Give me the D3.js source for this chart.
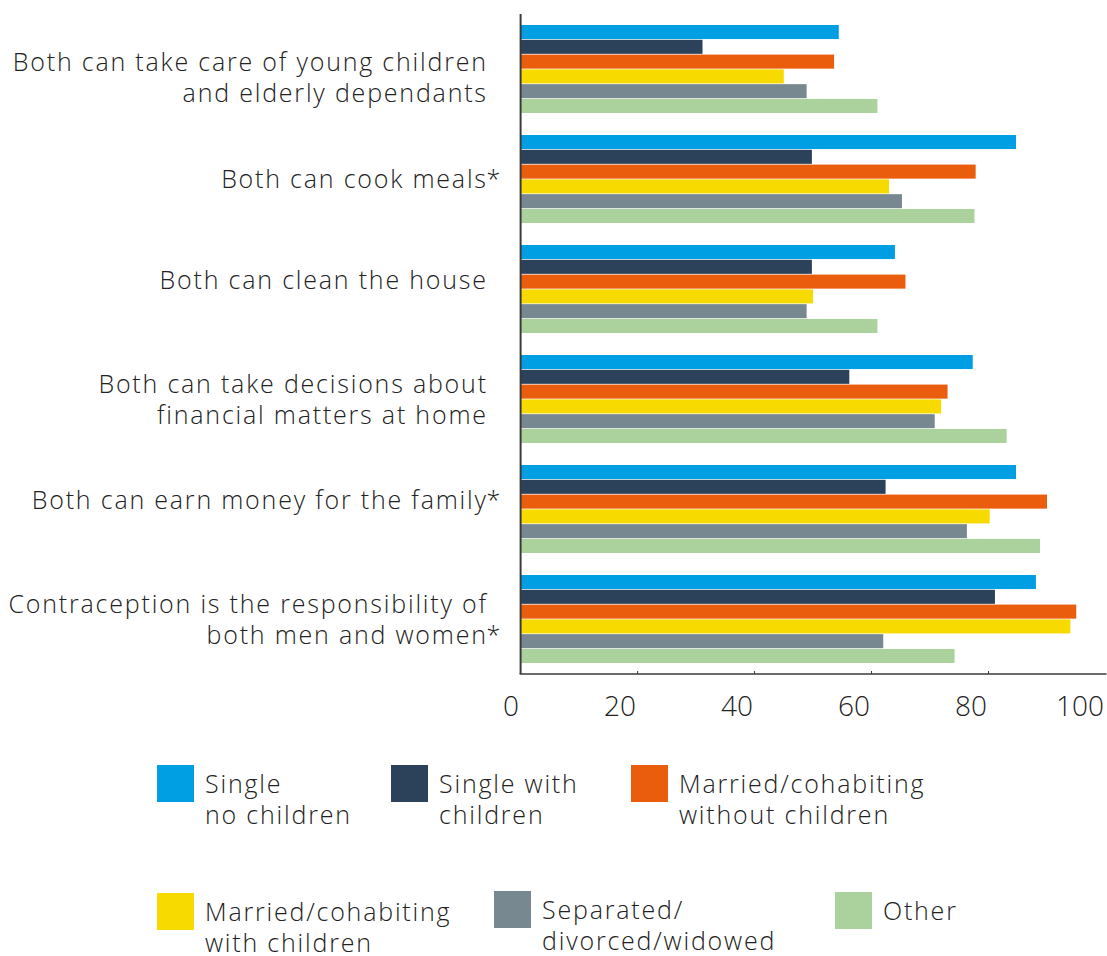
<!DOCTYPE html>
<html>
<head>
<meta charset="utf-8">
<script src="https://cdn.jsdelivr.net/npm/d3@7"></script>
<style>
  body { margin: 0; background: #ffffff; }
  svg text { font-family: "Open Sans", Lato, sans-serif; font-weight: 300; fill: #222222; letter-spacing: 1.8px; }
</style>
</head>
<body>
<svg id="chart" width="1107" height="956"></svg>
<script>
// Statements, each split into the lines it is set on
const categories = [
  ["Both can take care of young children", "and elderly dependants"],
  ["Both can cook meals*"],
  ["Both can clean the house"],
  ["Both can take decisions about", "financial matters at home"],
  ["Both can earn money for the family*"],
  ["Contraception is the responsibility of", "both men and women*"]
];

// Household types (legend order = bar order inside each group)
const seriesNames = [
  ["Single", "no children"],
  ["Single with", "children"],
  ["Married/cohabiting", "without children"],
  ["Married/cohabiting", "with children"],
  ["Separated/", "divorced/widowed"],
  ["Other"]
];

// Percent agreeing, one value per statement
const singleNoChildren   = [54.4, 84.7, 64.0, 77.3, 84.7, 88.1];
const singleWithChildren = [31.1, 49.8, 49.8, 56.2, 62.4, 81.1];
const marriedNoChildren  = [53.6, 77.8, 65.8, 73.0, 90.0, 95.0];
const marriedChildren    = [45.0, 63.0, 50.0, 71.9, 80.2, 94.0];
const separated          = [48.9, 65.2, 48.9, 70.8, 76.3, 62.0];
const otherHousehold     = [61.0, 77.6, 61.0, 83.1, 88.8, 74.2];

const tickValues = [0, 20, 40, 60, 80, 100];

const seriesValues = [singleNoChildren, singleWithChildren, marriedNoChildren,
                      marriedChildren, separated, otherHousehold];
const colors = ["#009fe3", "#2c425a", "#ea5d0c", "#f6da00", "#778891", "#abd29c"];

// ---- layout ----
const svg = d3.select("#chart");
const plotTop = 14, plotBottom = 674, plotLeft = 520.6, plotRight = 1105.5;
const spacing = 1.8;               // trailing letter-spacing to compensate on right-aligned text
const labelRight = 486 + spacing;
// small vertical adjustments of the statement labels
const labelShift = [8.5, 0, -9, 0, -9, 0];

const x = d3.scaleLinear().domain([0, 100]).range([plotLeft, plotRight]);
const catIds = categories.map((c, i) => i);
const y = d3.scaleBand().domain(catIds).range([plotTop, plotBottom])
  .paddingInner(0.2).paddingOuter(0.1);
const ySub = d3.scaleBand().domain(d3.range(seriesValues.length))
  .range([0, y.bandwidth()]).paddingInner(0.05);

// bars
const groups = svg.append("g").selectAll("g")
  .data(catIds).join("g")
  .attr("transform", d => `translate(0,${y(d)})`);

groups.selectAll("rect")
  .data(ci => seriesValues.map((vals, si) => ({ si, v: vals[ci] })))
  .join("rect")
  .attr("x", x(0))
  .attr("y", d => ySub(d.si))
  .attr("width", d => x(d.v) - x(0))
  .attr("height", ySub.bandwidth())
  .attr("fill", d => colors[d.si]);

// axes lines
svg.append("line")
  .attr("x1", plotLeft).attr("x2", plotLeft)
  .attr("y1", plotTop).attr("y2", plotBottom)
  .attr("stroke", "#3a3a3a").attr("stroke-width", 2);
svg.append("line")
  .attr("x1", plotLeft - 1).attr("x2", plotRight + 1)
  .attr("y1", plotBottom).attr("y2", plotBottom)
  .attr("stroke", "#3a3a3a").attr("stroke-width", 1.6);

// x ticks (short marks pointing into the plot, labels right-aligned on the tick)
const xAxis = svg.append("g");
xAxis.selectAll("line")
  .data(tickValues.slice(1, -1)).join("line")
  .attr("x1", d => x(d)).attr("x2", d => x(d))
  .attr("y1", plotBottom).attr("y2", plotBottom - 3)
  .attr("stroke", "#3a3a3a").attr("stroke-width", 1);
xAxis.selectAll("text")
  .data(tickValues).join("text")
  .attr("x", d => x(d) - 1.5)
  .attr("y", plotBottom + 42)
  .attr("text-anchor", "end")
  .style("font-size", "28px")
  .style("letter-spacing", "0px")
  .text(d => d);

// statement labels
const lineGap = 31;
const labels = svg.append("g");
categories.forEach((lines, ci) => {
  const cy = y(ci) + y.bandwidth() / 2 + 9 + labelShift[ci];
  const first = cy - (lines.length - 1) * lineGap / 2;
  lines.forEach((line, li) => {
    const star = line.endsWith("*");
    const body = star ? line.slice(0, -1) : line;
    const ty = first + li * lineGap;
    labels.append("text")
      .attr("x", labelRight).attr("y", ty)
      .attr("text-anchor", "end")
      .style("font-size", "25px")
      .text(body);
    if (star) {
      labels.append("text")
        .attr("x", labelRight - spacing + 0.5).attr("y", ty)
        .style("font-size", "25px")
        .text("*");
    }
  });
});

// legend
const legendPos = [[157, 765], [391, 765], [631, 765], [157, 893], [494, 891], [835, 892]];
const legend = svg.append("g");
seriesNames.forEach((lines, si) => {
  const [lx, ly] = legendPos[si];
  legend.append("rect")
    .attr("x", lx).attr("y", ly).attr("width", 37).attr("height", 37)
    .attr("fill", colors[si]);
  lines.forEach((line, li) => {
    legend.append("text")
      .attr("x", lx + 48)
      .attr("y", ly + 28 + li * 31)
      .style("font-size", "25px")
      .text(line);
  });
});
</script>
</body>
</html>
